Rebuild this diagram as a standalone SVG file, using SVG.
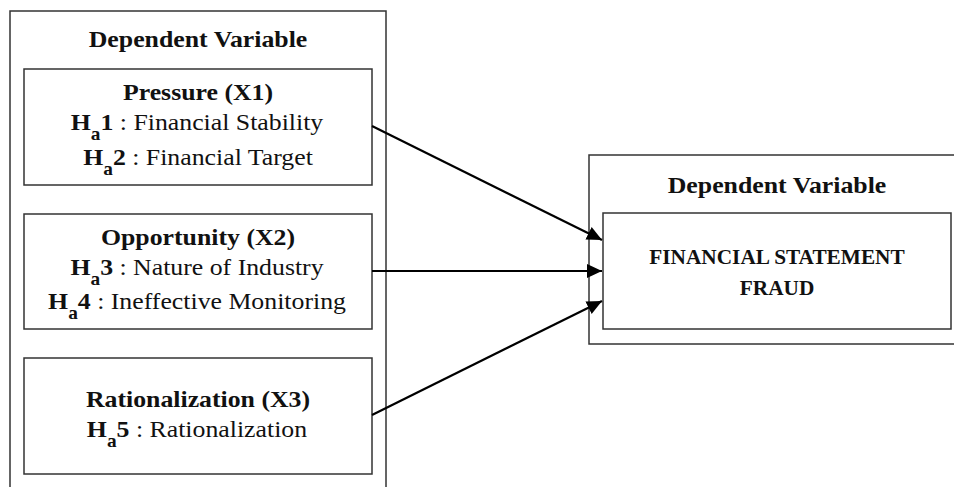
<svg xmlns="http://www.w3.org/2000/svg" width="954" height="487" viewBox="0 0 954 487">
<style>
.box{fill:#fff;stroke:#333;stroke-width:1.5}
.frame{fill:none;stroke:#333;stroke-width:1.5}
text{font-family:"Liberation Serif","Times New Roman",serif;font-size:24px;fill:#111;text-anchor:middle}
.b{font-weight:bold}
.sub{font-size:18px}
.fs{font-size:20px;font-weight:bold}
.conn{stroke:#000;stroke-width:2.2;fill:none;marker-end:url(#ah)}
</style>
<defs>
<marker id="ah" markerUnits="userSpaceOnUse" markerWidth="16" markerHeight="14" refX="15" refY="7" orient="auto">
<path d="M0,0 L15,7 L0,14 Z" fill="#000"/>
</marker>
</defs>
<rect width="954" height="487" fill="#fff"/>
<g id="independent-group">
<rect class="frame" x="10" y="11" width="376" height="490"/>
<text class="b" transform="translate(198,47) scale(1.075,1)">Dependent Variable</text>
</g>
<g id="pressure">
<rect class="box" x="24" y="69" width="348" height="116"/>
<text class="b" transform="translate(198,100) scale(1.075,1)">Pressure (X1)</text>
<text transform="translate(197,130) scale(1.075,1)"><tspan class="b">H</tspan><tspan class="b sub" dy="10">a</tspan><tspan class="b" dy="-10">1</tspan> : Financial Stability</text>
<text transform="translate(198,165) scale(1.075,1)"><tspan class="b">H</tspan><tspan class="b sub" dy="10">a</tspan><tspan class="b" dy="-10">2</tspan> : Financial Target</text>
</g>
<g id="opportunity">
<rect class="box" x="24" y="214" width="348" height="115"/>
<text class="b" transform="translate(198,245) scale(1.075,1)">Opportunity (X2)</text>
<text transform="translate(197,275) scale(1.075,1)"><tspan class="b">H</tspan><tspan class="b sub" dy="10">a</tspan><tspan class="b" dy="-10">3</tspan> : Nature of Industry</text>
<text transform="translate(197,309) scale(1.075,1)"><tspan class="b">H</tspan><tspan class="b sub" dy="10">a</tspan><tspan class="b" dy="-10">4</tspan> : Ineffective Monitoring</text>
</g>
<g id="rationalization">
<rect class="box" x="24" y="358" width="348" height="116"/>
<text class="b" transform="translate(198,407) scale(1.075,1)">Rationalization (X3)</text>
<text transform="translate(197,437) scale(1.075,1)"><tspan class="b">H</tspan><tspan class="b sub" dy="10">a</tspan><tspan class="b" dy="-10">5</tspan> : Rationalization</text>
</g>
<g id="dependent-group">
<rect class="frame" x="589" y="155" width="380" height="189"/>
<text class="b" transform="translate(777,193) scale(1.075,1)">Dependent Variable</text>
</g>
<g id="fraud">
<rect class="box" x="603" y="213" width="348" height="116"/>
<text class="fs" transform="translate(777,264) scale(1.065,1)">FINANCIAL STATEMENT</text>
<text class="fs" transform="translate(777,295) scale(1.065,1)">FRAUD</text>
</g>
<g id="connectors">
<line class="conn" x1="372" y1="126" x2="602" y2="240"/>
<line class="conn" x1="372" y1="271" x2="602" y2="271"/>
<line class="conn" x1="372" y1="415" x2="602" y2="301"/>
</g>
</svg>
